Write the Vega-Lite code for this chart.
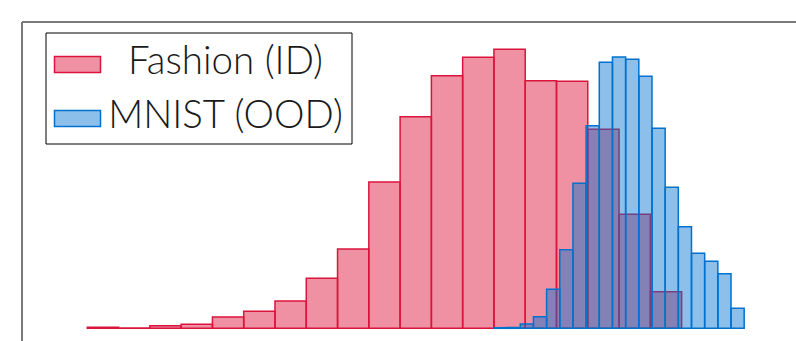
{
  "$schema": "https://vega.github.io/schema/vega-lite/v6.json",
  "width": 774.5,
  "height": 319.5,
  "autosize": {"type": "none"},
  "padding": {"left": 21.5, "top": 21.5, "right": 0, "bottom": 0},
  "background": "white",
  "config": {
    "view": {"stroke": null},
    "axis": {"domainColor": "#7a7a7a", "domainWidth": 2, "ticks": false, "labels": false, "grid": false},
    "legend": {
      "orient": "none",
      "legendX": 24,
      "legendY": 11,
      "fillColor": "white",
      "strokeColor": "black",
      "padding": 8,
      "rowPadding": 13,
      "symbolType": "M-1,-0.35L1,-0.35L1,0.35L-1,0.35Z",
      "symbolSize": 2116,
      "symbolStrokeWidth": 1.5,
      "labelFont": "Lato",
      "labelFontSize": 38.5,
      "labelFontWeight": 300,
      "labelColor": "#1a1a1a",
      "labelAlign": "center",
      "labelOffset": 124,
      "labelBaseline": "alphabetic",
      "labelLimit": 400
    }
  },
  "data": {
    "values": [
      {"series": "Fashion (ID)", "bin_start": 0, "bin_end": 1, "count": 10},
      {"series": "Fashion (ID)", "bin_start": 1, "bin_end": 2, "count": 4},
      {"series": "Fashion (ID)", "bin_start": 2, "bin_end": 3, "count": 26},
      {"series": "Fashion (ID)", "bin_start": 3, "bin_end": 4, "count": 40},
      {"series": "Fashion (ID)", "bin_start": 4, "bin_end": 5, "count": 113},
      {"series": "Fashion (ID)", "bin_start": 5, "bin_end": 6, "count": 170},
      {"series": "Fashion (ID)", "bin_start": 6, "bin_end": 7, "count": 273},
      {"series": "Fashion (ID)", "bin_start": 7, "bin_end": 8, "count": 500},
      {"series": "Fashion (ID)", "bin_start": 8, "bin_end": 9, "count": 793},
      {"series": "Fashion (ID)", "bin_start": 9, "bin_end": 10, "count": 1463},
      {"series": "Fashion (ID)", "bin_start": 10, "bin_end": 11, "count": 2116},
      {"series": "Fashion (ID)", "bin_start": 11, "bin_end": 12, "count": 2526},
      {"series": "Fashion (ID)", "bin_start": 12, "bin_end": 13, "count": 2710},
      {"series": "Fashion (ID)", "bin_start": 13, "bin_end": 14, "count": 2790},
      {"series": "Fashion (ID)", "bin_start": 14, "bin_end": 15, "count": 2476},
      {"series": "Fashion (ID)", "bin_start": 15, "bin_end": 16, "count": 2470},
      {"series": "Fashion (ID)", "bin_start": 16, "bin_end": 17, "count": 1990},
      {"series": "Fashion (ID)", "bin_start": 17, "bin_end": 18, "count": 1140},
      {"series": "Fashion (ID)", "bin_start": 18, "bin_end": 19, "count": 366},
      {"series": "MNIST (OOD)", "bin_start": 13, "bin_end": 13.421, "count": 6},
      {"series": "MNIST (OOD)", "bin_start": 13.421, "bin_end": 13.842, "count": 8},
      {"series": "MNIST (OOD)", "bin_start": 13.842, "bin_end": 14.263, "count": 43},
      {"series": "MNIST (OOD)", "bin_start": 14.263, "bin_end": 14.684, "count": 116},
      {"series": "MNIST (OOD)", "bin_start": 14.684, "bin_end": 15.105, "count": 390},
      {"series": "MNIST (OOD)", "bin_start": 15.105, "bin_end": 15.526, "count": 786},
      {"series": "MNIST (OOD)", "bin_start": 15.526, "bin_end": 15.947, "count": 1450},
      {"series": "MNIST (OOD)", "bin_start": 15.947, "bin_end": 16.368, "count": 2026},
      {"series": "MNIST (OOD)", "bin_start": 16.368, "bin_end": 16.789, "count": 2660},
      {"series": "MNIST (OOD)", "bin_start": 16.789, "bin_end": 17.211, "count": 2713},
      {"series": "MNIST (OOD)", "bin_start": 17.211, "bin_end": 17.632, "count": 2690},
      {"series": "MNIST (OOD)", "bin_start": 17.632, "bin_end": 18.053, "count": 2520},
      {"series": "MNIST (OOD)", "bin_start": 18.053, "bin_end": 18.474, "count": 2000},
      {"series": "MNIST (OOD)", "bin_start": 18.474, "bin_end": 18.895, "count": 1410},
      {"series": "MNIST (OOD)", "bin_start": 18.895, "bin_end": 19.316, "count": 1016},
      {"series": "MNIST (OOD)", "bin_start": 19.316, "bin_end": 19.737, "count": 750},
      {"series": "MNIST (OOD)", "bin_start": 19.737, "bin_end": 20.158, "count": 670},
      {"series": "MNIST (OOD)", "bin_start": 20.158, "bin_end": 20.579, "count": 546},
      {"series": "MNIST (OOD)", "bin_start": 20.579, "bin_end": 21, "count": 200}
    ]
  },
  "mark": {"type": "rect", "strokeWidth": 1.5},
  "encoding": {
    "x": {
      "field": "bin_start",
      "type": "quantitative",
      "scale": {"domain": [-2.104, 22.657], "nice": false, "zero": false},
      "axis": {"orient": "top", "title": null}
    },
    "x2": {"field": "bin_end"},
    "y": {
      "field": "count",
      "type": "quantitative",
      "scale": {"domain": [-127, 3068], "nice": false, "zero": false},
      "axis": {"orient": "left", "title": null}
    },
    "y2": {"datum": 0},
    "fill": {
      "field": "series",
      "type": "nominal",
      "scale": {"domain": ["Fashion (ID)", "MNIST (OOD)"], "range": ["rgba(220,20,60,0.47)", "rgba(0,114,206,0.45)"]},
      "legend": {"title": null, "encode": {"labels": {"update": {"dy": {"value": 9}}}}}
    },
    "stroke": {
      "field": "series",
      "type": "nominal",
      "scale": {"domain": ["Fashion (ID)", "MNIST (OOD)"], "range": ["#DC143C", "#0072CE"]},
      "legend": {"title": null, "encode": {"labels": {"update": {"dy": {"value": 9}}}}}
    }
  }
}
